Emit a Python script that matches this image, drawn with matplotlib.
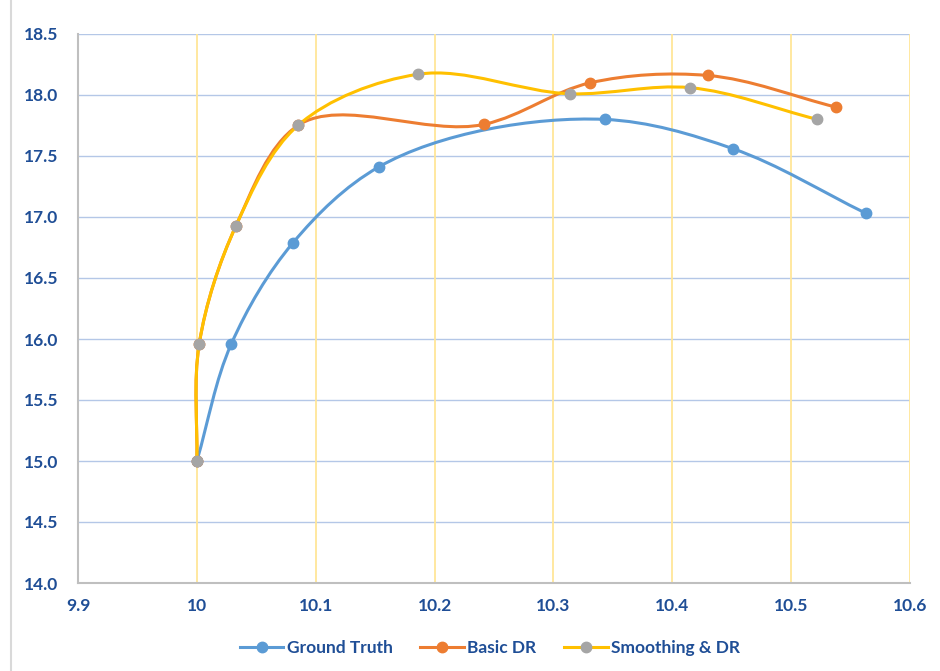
import math
import matplotlib
matplotlib.use("Agg")
import matplotlib.pyplot as plt
from matplotlib.path import Path
from matplotlib.patches import PathPatch
from matplotlib.lines import Line2D

# ---- data ----
gt_x = [10.000, 10.029, 10.081, 10.153, 10.343, 10.451, 10.563]
gt_y = [15.00, 15.96, 16.79, 17.41, 17.80, 17.56, 17.03]

dr_x = [10.000, 10.002, 10.033, 10.085, 10.242, 10.331, 10.430, 10.538]
dr_y = [15.00, 15.96, 16.93, 17.75, 17.76, 18.10, 18.16, 17.90]

sm_x = [10.000, 10.002, 10.033, 10.085, 10.186, 10.314, 10.415, 10.522]
sm_y = [15.00, 15.96, 16.93, 17.75, 18.17, 18.01, 18.06, 17.80]

series_names = ["Ground Truth", "Basic DR", "Smoothing & DR"]
x_ticks = [9.9, 10.0, 10.1, 10.2, 10.3, 10.4, 10.5, 10.6]
x_tick_labels = ["9.9", "10", "10.1", "10.2", "10.3", "10.4", "10.5", "10.6"]
y_ticks = [14.0, 14.5, 15.0, 15.5, 16.0, 16.5, 17.0, 17.5, 18.0, 18.5]

# ---- style ----
TEXT = "#1F4E96"
BLUE = "#5B9BD5"
ORANGE = "#ED7D31"
GRAY = "#A5A5A5"
YELLOW = "#FFC000"
FONT = "Lato"
FS = 12.5


def smooth_path(ax, xs, ys, alpha=0.8):
    """Smoothed line (Excel-like): non-uniform Catmull-Rom computed in display
    space, converted to cubic Bezier segments, mapped back to data coords."""
    pts = ax.transData.transform(list(zip(xs, ys)))
    n = len(pts)
    seg = []
    for i in range(n - 1):
        dx = pts[i + 1][0] - pts[i][0]
        dy = pts[i + 1][1] - pts[i][1]
        d = math.hypot(dx, dy)
        seg.append((dx, dy, d, max(d, 1e-9) ** alpha))
    tangents = []
    for i in range(n):
        if i == 0:
            dx, dy, d, t = seg[0]
            tangents.append((dx / t, dy / t))
        elif i == n - 1:
            dx, dy, d, t = seg[-1]
            tangents.append((dx / t, dy / t))
        else:
            ax0, ay0, d0, t0 = seg[i - 1]
            ax1, ay1, d1, t1 = seg[i]
            v0 = (ax0 / t0, ay0 / t0)
            v1 = (ax1 / t1, ay1 / t1)
            tangents.append(((t1 * v0[0] + t0 * v1[0]) / (t0 + t1),
                             (t1 * v0[1] + t0 * v1[1]) / (t0 + t1)))
    verts = [tuple(pts[0])]
    codes = [Path.MOVETO]
    for i in range(n - 1):
        t = seg[i][3]
        p1, p2 = pts[i], pts[i + 1]
        m1, m2 = tangents[i], tangents[i + 1]
        c1 = (p1[0] + m1[0] * t / 3, p1[1] + m1[1] * t / 3)
        c2 = (p2[0] - m2[0] * t / 3, p2[1] - m2[1] * t / 3)
        verts += [c1, c2, tuple(p2)]
        codes += [Path.CURVE4] * 3
    data_verts = ax.transData.inverted().transform(verts)
    return Path(data_verts, codes)


fig = plt.figure(figsize=(9.4, 6.71), dpi=100)
ax = fig.add_axes([78 / 940, 1 - 583 / 671, (910 - 78) / 940, (583 - 34) / 671])

ax.set_xlim(9.9, 10.6)
ax.set_ylim(14.0, 18.5)
ax.set_xticks(x_ticks)
ax.set_xticklabels(x_tick_labels)
ax.set_yticks(y_ticks)
ax.set_yticklabels([f"{v:.1f}" for v in y_ticks])

# gridlines
for v in y_ticks[1:]:
    ax.axhline(v, color="#B4C7E7", lw=1.0, zorder=0)
for v in x_ticks[1:]:
    ax.axvline(v, color="#FFE699", lw=1.3, zorder=0)

for s in ["top", "right"]:
    ax.spines[s].set_visible(False)
for s in ["left", "bottom"]:
    ax.spines[s].set_color("#BFBFBF")
    ax.spines[s].set_linewidth(1.5)

ax.tick_params(length=0, colors=TEXT, labelsize=FS)
ax.tick_params(axis="y", pad=14)
ax.tick_params(axis="x", pad=11)
for lab in ax.get_xticklabels() + ax.get_yticklabels():
    lab.set_fontfamily(FONT)
    lab.set_fontweight("bold")

series = [
    (gt_x, gt_y, BLUE, BLUE),
    (dr_x, dr_y, ORANGE, ORANGE),
    (sm_x, sm_y, YELLOW, GRAY),
]
handles = []
for k, (xs, ys, lc, mc) in enumerate(series):
    patch = PathPatch(smooth_path(ax, xs, ys), facecolor="none", edgecolor=lc,
                      lw=2.2, zorder=2 + k * 2, capstyle="round", joinstyle="round")
    ax.add_patch(patch)
    ax.plot(xs, ys, linestyle="none", marker="o", markersize=7.5,
            markerfacecolor=mc, markeredgecolor=mc, zorder=3 + k * 2, clip_on=False)
    handles.append(Line2D([], [], color=lc, lw=2.2, marker="o", markersize=7.5,
                          markerfacecolor=mc, markeredgecolor=mc))

leg = fig.legend(handles, series_names, loc="center", bbox_to_anchor=(490 / 940, 1 - 648 / 671),
                 ncol=3, frameon=False, handlelength=2.5, handletextpad=0.2,
                 columnspacing=1.6, prop={"family": FONT, "weight": "bold", "size": FS})
for t in leg.get_texts():
    t.set_color(TEXT)

# chart border on left
fig.add_artist(Line2D([11 / 940, 11 / 940], [0, 1], color="#D9D9D9", lw=1.5,
                      transform=fig.transFigure))

fig.savefig("out.png", dpi=100, facecolor="white")
